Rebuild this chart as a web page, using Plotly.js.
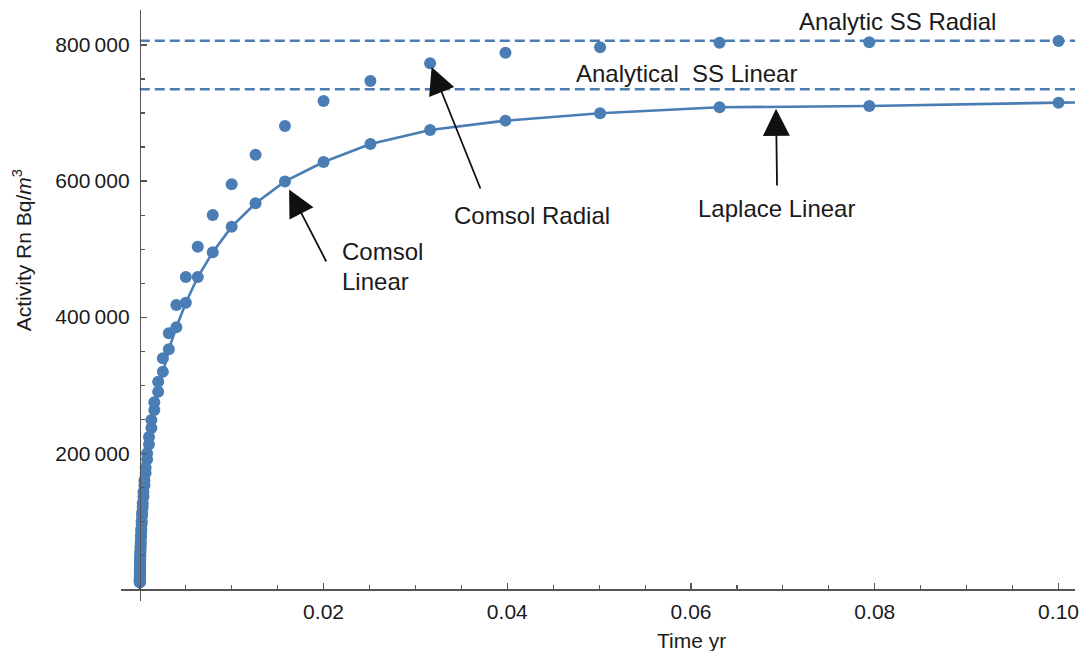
<!DOCTYPE html>
<html>
<head>
<meta charset="utf-8">
<script src="https://cdn.plot.ly/plotly-3.0.1.min.js"></script>
<style>html,body{margin:0;padding:0;background:#fff;}#chart{width:1081px;height:651px;}</style>
</head>
<body>
<div id="chart"></div>
<script>
// ---- data ----
var comsolTime = [0.1, 0.0794, 0.0631, 0.0501, 0.0398, 0.0316, 0.0251, 0.02, 0.0158, 0.0126,
  0.01, 0.00794, 0.00631, 0.00501, 0.00398, 0.00316, 0.00251, 0.002, 0.00158, 0.00126,
  0.001, 0.000794, 0.000631, 0.000501, 0.000398, 0.000316, 0.000251, 0.0002, 0.000158, 0.000126,
  0.0001, 0.0000794, 0.0000631, 0.0000501, 0.0000398, 0.0000316, 0.0000251, 0.00002, 0.0000158, 0.0000126,
  0.00001, 0.00000794, 0.00000631, 0.00000501, 0.00000398, 0.00000316, 0.00000251];

var comsolRadial = [805900, 804000, 803400, 796600, 788700, 773100, 747100, 717700, 681000, 638800,
  595300, 550100, 503600, 459000, 417700, 376300, 339500, 305100, 274900, 248800,
  224000, 200000, 179000, 160000, 143000, 127000, 113000, 100500, 89000, 79000,
  70000, 62500, 55500, 49500, 44000, 39000, 35000, 31000, 27500, 24500,
  22000, 19500, 17000, 15000, 13500, 12000, 10500];

var comsolLinear = [715200, 710300, 708400, 699600, 688800, 675100, 654500, 628000, 599500, 567300,
  533000, 495300, 459000, 421200, 385100, 352800, 319800, 290400, 263500, 237000,
  213000, 191000, 171000, 153000, 136000, 121000, 108000, 96000, 85000, 76000,
  67000, 60000, 53500, 47500, 42500, 38000, 34000, 30000, 26500, 23500,
  21000, 18500, 16500, 14500, 13000, 11500, 10300];

var laplaceTime = [0.1018, 0.1, 0.0794, 0.0631, 0.0501, 0.0398, 0.0316, 0.0251, 0.02, 0.0158, 0.0126,
  0.01, 0.00794, 0.00631, 0.00501, 0.00398, 0.00316, 0.00251, 0.002, 0.00158, 0.00126,
  0.001, 0.000794, 0.000631, 0.000501, 0.000398, 0.000316, 0.000251, 0.0002, 0.000158, 0.000126,
  0.0001, 0.00005, 0.00002, 0.00001, 0.000005, 0];
var laplaceLinear = [715500, 715200, 710300, 708400, 699600, 688800, 675100, 654500, 628000, 599500, 567300,
  533000, 495300, 459000, 421200, 385100, 352800, 319800, 290400, 263500, 237000,
  213000, 191000, 171000, 153000, 136000, 121000, 108000, 96000, 85000, 76000,
  67000, 47500, 30000, 21000, 14800, 0];

var ssTime = [0, 0.1018];
var ssRadial = [806300, 806300];
var ssLinear = [734900, 734900];

var xTickVals = [0.02, 0.04, 0.06, 0.08, 0.10];
var xTickText = ["0.02", "0.04", "0.06", "0.08", "0.10"];
var yTickVals = [200000, 400000, 600000, 800000];
var yTickText = ["200\u2009000", "400\u2009000", "600\u2009000", "800\u2009000"];

// ---- styling ----
var blue = '#4a7db4';
var font = 'Liberation Sans, Arial, Helvetica, sans-serif';
var txt = '#1a1a1a';

var traces = [
  {x: ssTime, y: ssRadial, mode: 'lines', name: 'Analytic SS Radial',
   line: {color: blue, width: 2.6, dash: '10px,5px'}, hoverinfo: 'skip'},
  {x: ssTime, y: ssLinear, mode: 'lines', name: 'Analytical SS Linear',
   line: {color: blue, width: 2.6, dash: '10px,5px'}, hoverinfo: 'skip'},
  {x: laplaceTime, y: laplaceLinear, mode: 'lines', name: 'Laplace Linear',
   line: {color: blue, width: 2.6}},
  {x: comsolTime, y: comsolLinear, mode: 'markers', name: 'Comsol Linear',
   marker: {color: blue, size: 12}, cliponaxis: false},
  {x: comsolTime, y: comsolRadial, mode: 'markers', name: 'Comsol Radial',
   marker: {color: blue, size: 12}, cliponaxis: false}
];

var axisCommon = {
  showgrid: false, zeroline: false, showline: true,
  linecolor: '#555', linewidth: 1.3,
  ticks: 'inside', ticklen: 6, tickwidth: 1.2, tickcolor: '#555',
  tickfont: {family: font, size: 21, color: txt},
  tickmode: 'array', anchor: 'free', fixedrange: true
};

var xaxis = Object.assign({}, axisCommon, {
  range: [-0.002046, 0.10179], position: 0.0198,
  tickvals: xTickVals, ticktext: xTickText, ticklabelstandoff: 3,
  minor: {tickmode: 'linear', tick0: 0, dtick: 0.005, ticks: 'inside', ticklen: 4, tickwidth: 1.1, tickcolor: '#555', showgrid: false}
});
var yaxis = Object.assign({}, axisCommon, {
  range: [-17200, 851400], position: 0.0197,
  tickvals: yTickVals, ticktext: yTickText, ticklabelstandoff: 6,
  minor: {tickmode: 'linear', tick0: 0, dtick: 50000, ticks: 'inside', ticklen: 4, tickwidth: 1.1, tickcolor: '#555', showgrid: false}
});

function label(text, x, y, xanchor) {
  return {text: text, x: x, y: y, xref: 'x', yref: 'y', showarrow: false,
          xanchor: xanchor || 'center', yanchor: 'middle',
          font: {family: font, size: 24, color: txt}};
}
function arrow(tipX, tipY, tailX, tailY, standoff) {
  return {text: '', x: tipX, y: tipY, ax: tailX, ay: tailY, xref: 'x', yref: 'y',
          axref: 'x', ayref: 'y', showarrow: true, arrowhead: 2, arrowsize: 3.0,
          arrowwidth: 1.8, arrowcolor: '#111', standoff: standoff};
}

var annotations = [
  label('Analytic SS Radial', 0.08243, 835000),
  label('Analytical\u00a0 SS Linear', 0.05945, 758800),
  label('Comsol Radial', 0.04269, 550100),
  label('Comsol', 0.02179, 497200, 'left'),
  label('Linear', 0.02179, 453100, 'left'),
  label('Laplace Linear', 0.06925, 560400),
  arrow(comsolTime[5], comsolRadial[5], 0.03714, 586900, 4),
  arrow(comsolTime[8], comsolLinear[8], 0.02038, 479600, 9),
  arrow(0.06925, 707600, 0.06936, 591300, 1),
  {text: 'Time yr', x: 0.060, y: -0.066, xref: 'x', yref: 'paper', showarrow: false,
   xanchor: 'center', yanchor: 'middle', font: {family: font, size: 21, color: txt}},
  {text: 'Activity Rn Bq/<i>m</i><sup>3</sup>', x: -0.1035, y: 498700, xref: 'paper', yref: 'y',
   showarrow: false, textangle: -90, xanchor: 'center', yanchor: 'middle',
   font: {family: font, size: 21, color: txt}}
];

var layout = {
  width: 1081, height: 651,
  margin: {l: 121, r: 6, t: 10, b: 50, pad: 0},
  paper_bgcolor: '#ffffff', plot_bgcolor: '#ffffff',
  showlegend: false,
  font: {family: font, size: 21, color: txt},
  xaxis: xaxis, yaxis: yaxis,
  annotations: annotations
};

Plotly.newPlot('chart', traces, layout, {displayModeBar: false, staticPlot: true});
</script>
</body>
</html>
